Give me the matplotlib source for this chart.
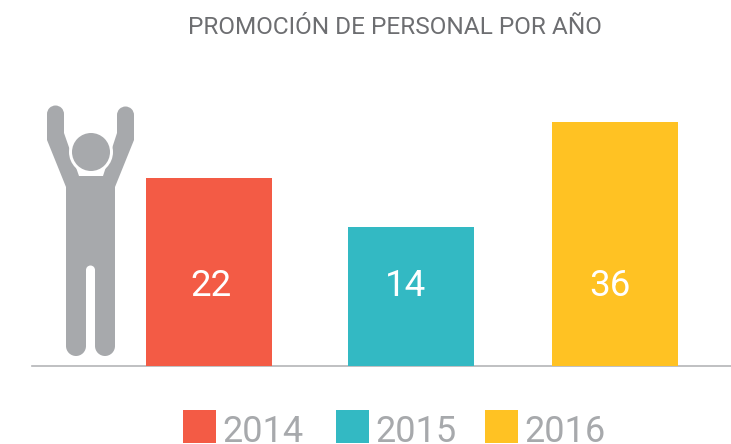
import matplotlib
matplotlib.use("Agg")
import matplotlib.pyplot as plt
from matplotlib.patches import Circle, Polygon, Rectangle

title = "PROMOCIÓN DE PERSONAL POR AÑO"
years = ["2014", "2015", "2016"]
values = [22, 14, 36]
# drawn height of the bars, they are not proportional to the labels
bar_heights = [188, 139, 244]
colors = ["#F35B45", "#33B9C3", "#FFC223"]

plt.rcParams["font.family"] = ["Roboto", "DejaVu Sans"]
GRAY = "#A7A9AC"

fig = plt.figure(figsize=(7.31, 4.44), dpi=100)
# one unit = one pixel, y = 0 is the baseline of the bars
ax = fig.add_axes([0, 0, 1, 1])
ax.set_xlim(0, 731)
ax.set_ylim(-78, 366)
ax.axis("off")

centers = [209, 411, 615]
ax.bar(centers, bar_heights, width=126, color=colors, zorder=2)
ax.plot([32, 731], [0, 0], color="#B4B5B8", lw=1.2, zorder=1)

for x, v in zip([211, 406, 610], values):
    ax.text(x, 70, str(v), color="white", fontsize=26.5, ha="center", va="baseline")

ax.text(395, 339, title, color="#6D6E71", fontsize=17.6, ha="center", va="center")

# legend
for x, year, c in zip([183, 336, 485], years, colors):
    ax.add_patch(Rectangle((x, -77), 33, 33, color=c, lw=0))
    ax.text(x + 39, -76, year, color=GRAY, fontsize=26, ha="left", va="baseline")


# person, coordinates given in picture pixels
def py(y):
    return 366 - y


outline = [
    (47, 114), (64, 114), (64, 133), (79, 176), (103, 176), (117, 133),
    (117, 115), (134, 115), (134, 140), (115, 187), (115, 346), (95, 346),
    (95, 270), (86, 270), (86, 346), (66, 346), (66, 187), (47, 140),
]
ax.add_patch(Polygon([(x, py(y)) for x, y in outline], fc=GRAY, ec="none", zorder=3))
# rounded ends of arms and legs
for x, y, r in [(55.5, 114, 8.5), (125.5, 115, 8.5), (76, 346, 10), (105, 346, 10)]:
    ax.add_patch(Circle((x, py(y)), r, fc=GRAY, ec="none", zorder=3))
ax.add_patch(Circle((90.5, py(270)), 4.5, fc="white", ec="none", zorder=4))
ax.add_patch(Circle((91, py(152)), 22, fc="white", ec="none", zorder=4))
ax.add_patch(Circle((91, py(152)), 19, fc=GRAY, ec="none", zorder=5))

fig.savefig("out.png", dpi=100)
